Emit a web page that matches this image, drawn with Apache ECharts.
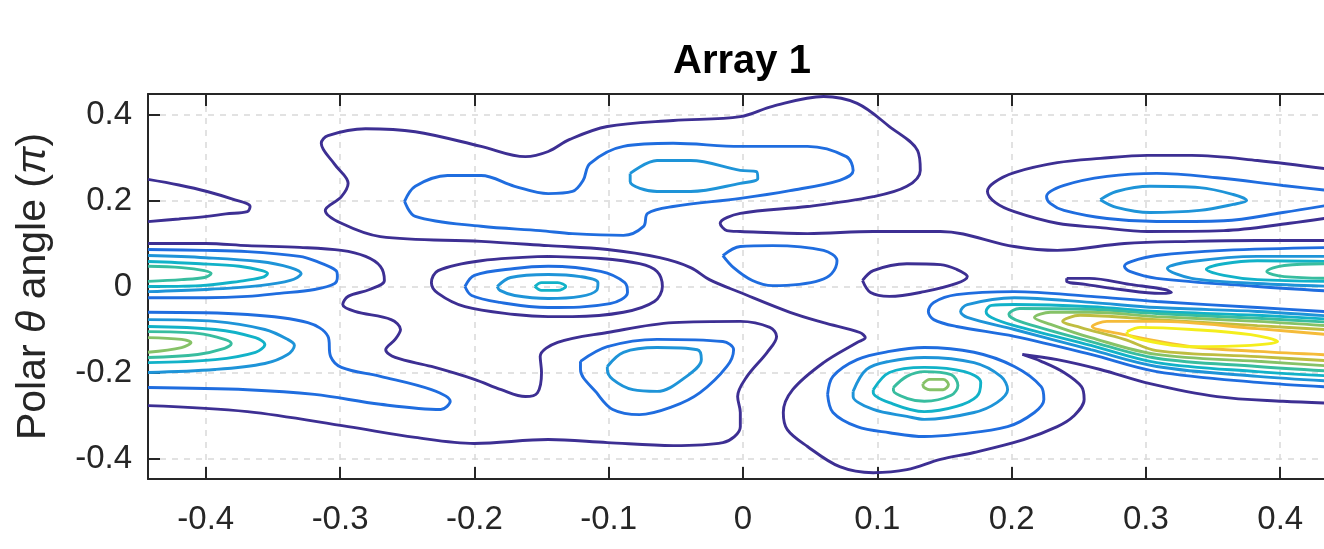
<!DOCTYPE html>
<html>
<head>
<meta charset="utf-8">
<title>Array 1</title>
<script src="https://cdn.jsdelivr.net/npm/echarts@6/dist/echarts.min.js"></script>
<style>
    html, body { margin: 0; padding: 0; background: #fff; }
    #chart { width: 1324px; height: 549px; }
</style>
</head>
<body>
<div id="chart"></div>
<script>
// tick positions
var xTicks = [-0.4, -0.3, -0.2, -0.1, 0, 0.1, 0.2, 0.3, 0.4];
var yTicks = [-0.4, -0.2, 0, 0.2, 0.4];

// contour level colours, low -> high (parula-like)
var levelColors = ['#3d2f93', '#1f6ddf', '#1e94d8', '#12b2c8', '#38bd9f', '#86c267', '#bfbd40', '#f5bb39', '#f4ee1c'];

// traced contour lines, [x, y] in axis units
// level 1
var l1_topLeft = [[-0.443,0.249],[-0.42,0.236],[-0.399,0.221],[-0.380,0.203],[-0.367,0.186],[-0.369,0.174],[-0.385,0.169],[-0.399,0.163],[-0.42,0.157],[-0.443,0.151]];
var l1_left = [[-0.443,0.100],[-0.400,0.100],[-0.369,0.095],[-0.330,0.091],[-0.299,0.084],[-0.281,0.070],[-0.270,0.047],[-0.267,0.014],[-0.278,-0.007],[-0.294,-0.023],[-0.298,-0.042],[-0.289,-0.058],[-0.262,-0.077],[-0.255,-0.100],[-0.259,-0.123],[-0.266,-0.147],[-0.259,-0.165],[-0.232,-0.186],[-0.200,-0.216],[-0.180,-0.240],[-0.162,-0.256],[-0.153,-0.247],[-0.150,-0.200],[-0.151,-0.163],[-0.138,-0.130],[-0.101,-0.107],[-0.052,-0.084],[-0.002,-0.081],[0.020,-0.095],[0.025,-0.116],[0.018,-0.153],[0.003,-0.209],[-0.004,-0.256],[-0.002,-0.293],[-0.002,-0.326],[-0.015,-0.363],[-0.052,-0.370],[-0.101,-0.363],[-0.145,-0.356],[-0.200,-0.365],[-0.244,-0.351],[-0.294,-0.326],[-0.369,-0.291],[-0.443,-0.277]];
var l1_big = [[0.443,0.107],[0.383,0.107],[0.333,0.105],[0.284,0.100],[0.234,0.084],[0.202,0.093],[0.147,0.128],[0.097,0.128],[0.048,0.123],[-0.002,0.128],[-0.012,0.130],[-0.017,0.147],[-0.002,0.170],[0.048,0.186],[0.097,0.209],[0.122,0.233],[0.132,0.270],[0.130,0.316],[0.109,0.372],[0.085,0.426],[0.060,0.442],[0.022,0.419],[-0.002,0.395],[-0.052,0.386],[-0.101,0.372],[-0.129,0.342],[-0.145,0.314],[-0.162,0.302],[-0.195,0.326],[-0.244,0.360],[-0.281,0.367],[-0.309,0.351],[-0.314,0.333],[-0.304,0.284],[-0.294,0.240],[-0.299,0.209],[-0.311,0.177],[-0.299,0.147],[-0.270,0.116],[-0.195,0.105],[-0.145,0.095],[-0.101,0.086],[-0.062,0.067],[-0.039,0.044],[-0.025,0.016],[-0.002,-0.014],[0.035,-0.060],[0.060,-0.084],[0.087,-0.107],[0.091,-0.119],[0.085,-0.130],[0.060,-0.177],[0.037,-0.240],[0.030,-0.293],[0.033,-0.333],[0.048,-0.372],[0.072,-0.419],[0.097,-0.433],[0.122,-0.426],[0.147,-0.402],[0.172,-0.386],[0.209,-0.356],[0.234,-0.326],[0.246,-0.302],[0.254,-0.263],[0.252,-0.233],[0.239,-0.200],[0.222,-0.174],[0.208,-0.158],[0.234,-0.170],[0.266,-0.193],[0.303,-0.226],[0.353,-0.256],[0.402,-0.267],[0.443,-0.272]];
var l1_topRight = [[0.443,0.270],[0.383,0.293],[0.334,0.305],[0.301,0.305],[0.266,0.298],[0.234,0.288],[0.202,0.265],[0.187,0.242],[0.182,0.221],[0.188,0.195],[0.202,0.174],[0.234,0.147],[0.266,0.137],[0.301,0.128],[0.358,0.130],[0.407,0.147],[0.443,0.163]];
var l1_midLeft = [[-0.145,0.070],[-0.106,0.065],[-0.077,0.053],[-0.064,0.035],[-0.060,0],[-0.066,-0.035],[-0.089,-0.060],[-0.127,-0.070],[-0.145,-0.070],[-0.170,-0.065],[-0.207,-0.047],[-0.227,-0.016],[-0.232,0.009],[-0.227,0.037],[-0.195,0.060],[-0.145,0.070]];
var l1_midRight = [[0.089,0.014],[0.097,0.037],[0.122,0.053],[0.147,0.051],[0.159,0.040],[0.167,0.023],[0.159,0.007],[0.135,-0.012],[0.109,-0.023],[0.095,-0.014],[0.089,0.014]];
var l1_tongue = [[0.241,0.019],[0.258,0.019],[0.288,0.005],[0.314,-0.007],[0.319,-0.014],[0.311,-0.016],[0.281,-0.007],[0.255,0.005],[0.241,0.012],[0.241,0.019]];
// level 2
var l2_upLeft = [[-0.443,0.086],[-0.400,0.084],[-0.369,0.081],[-0.330,0.070],[-0.319,0.060],[-0.303,0.037],[-0.302,0.023],[-0.304,0.007],[-0.319,-0.007],[-0.345,-0.016],[-0.369,-0.023],[-0.400,-0.026],[-0.443,-0.026]];
var l2_lowLeft = [[-0.443,-0.060],[-0.369,-0.065],[-0.324,-0.084],[-0.309,-0.116],[-0.307,-0.163],[-0.299,-0.188],[-0.270,-0.209],[-0.232,-0.240],[-0.218,-0.267],[-0.225,-0.286],[-0.270,-0.274],[-0.319,-0.251],[-0.369,-0.240],[-0.443,-0.235]];
var l2_top = [[-0.252,0.198],[-0.244,0.233],[-0.220,0.258],[-0.195,0.258],[-0.170,0.233],[-0.145,0.216],[-0.127,0.221],[-0.119,0.247],[-0.114,0.286],[-0.089,0.326],[-0.052,0.333],[-0.002,0.326],[0.048,0.326],[0.077,0.302],[0.082,0.270],[0.072,0.247],[0.035,0.223],[-0.002,0.205],[-0.052,0.186],[-0.071,0.170],[-0.074,0.140],[-0.089,0.119],[-0.127,0.123],[-0.151,0.130],[-0.195,0.140],[-0.244,0.163],[-0.252,0.198]];
var l2_center = [[-0.015,0.072],[-0.002,0.093],[0.022,0.095],[0.060,0.084],[0.070,0.060],[0.066,0.030],[0.057,0.014],[0.042,0.005],[0.022,0.002],[0.007,0.014],[-0.007,0.044],[-0.015,0.072]];
var l2_midLeft = [[-0.207,0],[-0.200,0.026],[-0.170,0.042],[-0.145,0.047],[-0.106,0.035],[-0.088,0.009],[-0.086,-0.014],[-0.099,-0.040],[-0.145,-0.049],[-0.181,-0.037],[-0.202,-0.021],[-0.207,0]];
var l2_lowMid = [[-0.121,-0.174],[-0.101,-0.140],[-0.064,-0.123],[-0.015,-0.128],[-0.007,-0.147],[-0.012,-0.186],[-0.032,-0.247],[-0.052,-0.279],[-0.077,-0.298],[-0.097,-0.286],[-0.109,-0.247],[-0.121,-0.193],[-0.121,-0.174]];
var l2_lowRight = [[0.063,-0.251],[0.067,-0.209],[0.085,-0.170],[0.109,-0.151],[0.135,-0.142],[0.172,-0.153],[0.202,-0.186],[0.222,-0.233],[0.224,-0.263],[0.217,-0.293],[0.197,-0.326],[0.159,-0.344],[0.135,-0.349],[0.109,-0.340],[0.085,-0.326],[0.067,-0.293],[0.063,-0.251]];
var l2_topRight = [[0.443,0.221],[0.402,0.235],[0.353,0.253],[0.308,0.263],[0.271,0.256],[0.239,0.235],[0.226,0.209],[0.229,0.193],[0.239,0.177],[0.271,0.158],[0.308,0.151],[0.358,0.153],[0.402,0.172],[0.443,0.193]];
var l2_edgeUp = [[0.443,0.091],[0.358,0.084],[0.308,0.072],[0.289,0.058],[0.284,0.047],[0.288,0.035],[0.308,0.019],[0.383,0],[0.443,-0.012]];
var l2_edgeLow = [[0.443,-0.060],[0.383,-0.049],[0.308,-0.035],[0.259,-0.023],[0.202,-0.012],[0.159,-0.019],[0.142,-0.037],[0.138,-0.058],[0.142,-0.077],[0.159,-0.093],[0.202,-0.116],[0.259,-0.158],[0.308,-0.198],[0.383,-0.223],[0.443,-0.235]];
// level 3
var l3_upLeft = [[-0.443,0.072],[-0.400,0.067],[-0.360,0.058],[-0.337,0.044],[-0.329,0.030],[-0.337,0.014],[-0.360,0.002],[-0.400,-0.007],[-0.443,-0.012]];
var l3_lowLeft = [[-0.443,-0.077],[-0.393,-0.081],[-0.356,-0.100],[-0.339,-0.123],[-0.334,-0.137],[-0.339,-0.158],[-0.356,-0.179],[-0.393,-0.193],[-0.443,-0.200]];
var l3_top = [[-0.084,0.263],[-0.064,0.293],[-0.039,0.293],[-0.002,0.270],[0.010,0.267],[0.011,0.251],[-0.002,0.240],[-0.039,0.221],[-0.064,0.221],[-0.084,0.244],[-0.084,0.263]];
var l3_midLeft = [[-0.183,0],[-0.173,0.021],[-0.145,0.028],[-0.121,0.023],[-0.108,0.009],[-0.109,-0.009],[-0.121,-0.023],[-0.145,-0.028],[-0.170,-0.021],[-0.181,-0.009],[-0.183,0]];
var l3_lowMid = [[-0.101,-0.186],[-0.089,-0.153],[-0.064,-0.142],[-0.034,-0.147],[-0.031,-0.170],[-0.042,-0.209],[-0.064,-0.244],[-0.082,-0.240],[-0.097,-0.216],[-0.101,-0.193],[-0.101,-0.186]];
var l3_lowRight = [[0.082,-0.244],[0.092,-0.193],[0.109,-0.174],[0.135,-0.165],[0.172,-0.177],[0.192,-0.209],[0.197,-0.240],[0.189,-0.270],[0.172,-0.293],[0.135,-0.309],[0.122,-0.302],[0.097,-0.286],[0.082,-0.256],[0.082,-0.244]];
var l3_topRight = [[0.266,0.202],[0.278,0.221],[0.303,0.233],[0.340,0.230],[0.365,0.214],[0.375,0.200],[0.365,0.191],[0.340,0.177],[0.303,0.172],[0.278,0.184],[0.266,0.202]];
var l3_edgeUp = [[0.443,0.070],[0.383,0.070],[0.334,0.058],[0.316,0.042],[0.334,0.019],[0.383,0.007],[0.443,0]];
var l3_edgeLow = [[0.443,-0.070],[0.383,-0.058],[0.308,-0.049],[0.259,-0.037],[0.202,-0.026],[0.167,-0.042],[0.162,-0.058],[0.167,-0.072],[0.202,-0.100],[0.259,-0.147],[0.308,-0.186],[0.383,-0.209],[0.443,-0.221]];
// level 4
var l4_upLeft = [[-0.443,0.058],[-0.404,0.053],[-0.375,0.047],[-0.358,0.037],[-0.354,0.030],[-0.358,0.021],[-0.375,0.012],[-0.404,0.002],[-0.443,0]];
var l4_lowLeft = [[-0.443,-0.093],[-0.393,-0.100],[-0.363,-0.119],[-0.356,-0.135],[-0.363,-0.153],[-0.393,-0.170],[-0.443,-0.177]];
var l4_midLeft = [[-0.155,0],[-0.150,0.009],[-0.138,0.009],[-0.132,0],[-0.138,-0.009],[-0.150,-0.009],[-0.155,0]];
var l4_lowRight = [[0.097,-0.240],[0.109,-0.200],[0.135,-0.188],[0.165,-0.198],[0.177,-0.223],[0.174,-0.256],[0.159,-0.279],[0.135,-0.291],[0.109,-0.270],[0.097,-0.247],[0.097,-0.240]];
var l4_edgeUp = [[0.443,0.058],[0.383,0.060],[0.358,0.053],[0.345,0.040],[0.358,0.026],[0.383,0.016],[0.443,0.012]];
var l4_edgeLow = [[0.443,-0.077],[0.383,-0.067],[0.308,-0.058],[0.259,-0.047],[0.202,-0.042],[0.185,-0.044],[0.181,-0.058],[0.185,-0.072],[0.202,-0.091],[0.259,-0.137],[0.308,-0.177],[0.383,-0.198],[0.443,-0.209]];
// level 5
var l5_upLeft = [[-0.443,0.047],[-0.418,0.044],[-0.401,0.037],[-0.396,0.030],[-0.401,0.021],[-0.418,0.016],[-0.443,0.012]];
var l5_lowLeft = [[-0.443,-0.105],[-0.406,-0.109],[-0.386,-0.123],[-0.381,-0.133],[-0.386,-0.144],[-0.406,-0.158],[-0.443,-0.165]];
var l5_lowRight = [[0.112,-0.235],[0.122,-0.209],[0.135,-0.198],[0.155,-0.205],[0.160,-0.230],[0.155,-0.253],[0.135,-0.267],[0.122,-0.260],[0.112,-0.242],[0.112,-0.235]];
var l5_edgeUp = [[0.443,0.053],[0.403,0.049],[0.390,0.035],[0.403,0.023],[0.443,0.019]];
var l5_edgeLow = [[0.443,-0.084],[0.383,-0.074],[0.308,-0.063],[0.259,-0.053],[0.206,-0.051],[0.198,-0.065],[0.206,-0.081],[0.259,-0.128],[0.308,-0.167],[0.383,-0.186],[0.443,-0.198]];
// level 6
var l6_lowLeft = [[-0.443,-0.119],[-0.418,-0.123],[-0.411,-0.130],[-0.418,-0.142],[-0.443,-0.153]];
var l6_lowRight = [[0.134,-0.226],[0.139,-0.216],[0.149,-0.216],[0.153,-0.228],[0.149,-0.240],[0.139,-0.240],[0.134,-0.230],[0.134,-0.226]];
var l6_edgeLow = [[0.443,-0.093],[0.383,-0.081],[0.308,-0.070],[0.259,-0.060],[0.229,-0.060],[0.217,-0.072],[0.229,-0.088],[0.259,-0.119],[0.308,-0.158],[0.383,-0.174],[0.443,-0.186]];
// levels 7-9 (peak on the right)
var l7_edgeLow = [[0.443,-0.102],[0.383,-0.091],[0.308,-0.077],[0.251,-0.067],[0.238,-0.081],[0.251,-0.095],[0.284,-0.123],[0.308,-0.149],[0.383,-0.163],[0.443,-0.174]];
var l8_edgeLow = [[0.443,-0.114],[0.383,-0.098],[0.308,-0.081],[0.271,-0.081],[0.260,-0.093],[0.284,-0.112],[0.334,-0.140],[0.383,-0.151],[0.443,-0.160]];
var l9_peak = [[0.286,-0.105],[0.296,-0.095],[0.334,-0.100],[0.378,-0.112],[0.398,-0.128],[0.378,-0.137],[0.334,-0.140],[0.296,-0.123],[0.286,-0.109],[0.286,-0.105]];

// [level index, line]
var contours = [
    [0, l1_topLeft], [0, l1_left], [0, l1_big], [0, l1_topRight], [0, l1_midLeft], [0, l1_midRight], [0, l1_tongue],
    [1, l2_upLeft], [1, l2_lowLeft], [1, l2_top], [1, l2_center], [1, l2_midLeft], [1, l2_lowMid], [1, l2_lowRight], [1, l2_topRight], [1, l2_edgeUp], [1, l2_edgeLow],
    [2, l3_upLeft], [2, l3_lowLeft], [2, l3_top], [2, l3_midLeft], [2, l3_lowMid], [2, l3_lowRight], [2, l3_topRight], [2, l3_edgeUp], [2, l3_edgeLow],
    [3, l4_upLeft], [3, l4_lowLeft], [3, l4_midLeft], [3, l4_lowRight], [3, l4_edgeUp], [3, l4_edgeLow],
    [4, l5_upLeft], [4, l5_lowLeft], [4, l5_lowRight], [4, l5_edgeUp], [4, l5_edgeLow],
    [5, l6_lowLeft], [5, l6_lowRight], [5, l6_edgeLow],
    [6, l7_edgeLow], [7, l8_edgeLow], [8, l9_peak]
];

var fontFam = '"Liberation Sans", Arial, Helvetica, sans-serif';
var axisColor = '#262626';

function tickFmt(v) {
    if (Math.abs(v) < 1e-9) return '0';
    return v.toFixed(1);
}

var series = contours.map(function (c) {
    return {
        type: 'line',
        data: c[1],
        smooth: 0.35,
        showSymbol: false,
        silent: true,
        lineStyle: { color: levelColors[c[0]], width: 2.9 },
        z: 3
    };
});

var myChart = echarts.init(document.getElementById('chart'));
var option = {
    animation: false,
    backgroundColor: '#fff',
    grid: { left: 148, top: 94, width: 1190, height: 385, containLabel: false, outerBoundsMode: 'none' },
    graphic: [{
        type: 'text',
        x: 742,
        y: 62,
        style: {
            text: 'Array 1',
            font: 'bold 40px ' + fontFam,
            fill: '#000',
            align: 'center',
            verticalAlign: 'middle'
        }
    }],
    xAxis: [{
        type: 'value',
        min: -0.443,
        max: 0.443,
        position: 'bottom',
        axisLine: { show: true, onZero: false, lineStyle: { color: axisColor, width: 2 } },
        axisTick: { show: true, inside: true, length: 12, customValues: xTicks, lineStyle: { color: axisColor, width: 2 } },
        axisLabel: { customValues: xTicks, formatter: tickFmt, fontSize: 33, color: axisColor, margin: 24, fontFamily: fontFam },
        splitLine: { show: true, lineStyle: { color: '#d9d9d9', width: 1.5, type: [6, 6] } }
    }, {
        type: 'value',
        min: -0.443,
        max: 0.443,
        position: 'top',
        axisLine: { show: true, onZero: false, lineStyle: { color: axisColor, width: 2 } },
        axisTick: { show: true, inside: true, length: 12, customValues: xTicks, lineStyle: { color: axisColor, width: 2 } },
        axisLabel: { show: false },
        splitLine: { show: false }
    }],
    yAxis: {
        type: 'value',
        min: -0.4477,
        max: 0.4477,
        axisLine: { show: true, onZero: false, lineStyle: { color: axisColor, width: 2 } },
        axisTick: { show: true, inside: true, length: 12, customValues: yTicks, lineStyle: { color: axisColor, width: 2 } },
        axisLabel: { customValues: yTicks, formatter: tickFmt, fontSize: 33, color: axisColor, margin: 16, fontFamily: fontFam },
        splitLine: { show: true, lineStyle: { color: '#d9d9d9', width: 1.5, type: [6, 6] } },
        name: 'Polar {i|θ} angle ({i|π})',
        nameLocation: 'middle',
        nameRotate: 90,
        nameGap: 94,
        nameTextStyle: {
            fontSize: 41,
            color: axisColor,
            fontFamily: fontFam,
            rich: { i: { fontSize: 41, fontStyle: 'italic', color: axisColor, fontFamily: fontFam } }
        }
    },
    series: series
};
myChart.setOption(option);
</script>
</body>
</html>
